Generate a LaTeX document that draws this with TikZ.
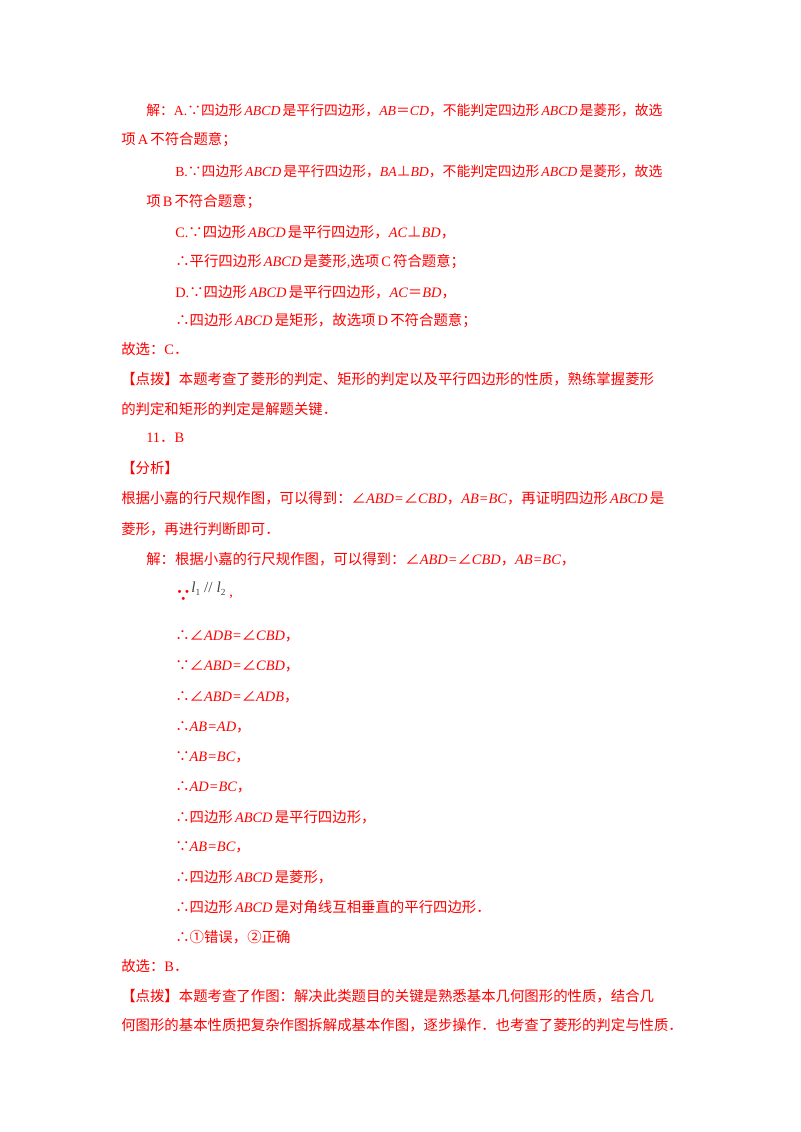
\documentclass[tikz,border=0pt]{standalone}
\usepackage{fontspec}
\setmainfont{Noto Sans CJK SC}
\newfontfamily\lat{Liberation Serif}
\newcommand{\mi}[1]{{\lat\itshape #1}}
\newcommand{\mq}[1]{\hspace{0.15em}{\lat\itshape #1}\hspace{0.15em}}
\newcommand{\rmn}[1]{{\lat #1}}
\newcommand{\rsp}[1]{\hspace{0.15em}{\lat #1}\hspace{0.15em}}
\begin{document}
\begin{tikzpicture}[x=0.75pt,y=-0.75pt,
  ln/.style={anchor=west,inner sep=0pt,text=red,font=\fontsize{10.8pt}{12pt}\selectfont},
  lnt/.style={ln,font=\fontsize{10.35pt}{12pt}\selectfont}]
\useasboundingbox (0,0) rectangle (800,1132);
\node[lnt] (l1) at (146,110) {解：\rmn{A.}∵四边形\mq{ABCD}是平行四边形，\mi{AB}＝\mi{CD}，不能判定四边形\mq{ABCD}是菱形，故选};
\node[ln] (l2) at (121,140) {项\rsp{A}不符合题意；};
\node[lnt] (l3) at (175,171) {\rmn{B.}∵四边形\mq{ABCD}是平行四边形，\mi{BA}⊥\mi{BD}，不能判定四边形\mq{ABCD}是菱形，故选};
\node[ln] (l4) at (146,202) {项\rsp{B}不符合题意；};
\node[ln] (l5) at (175,232) {\rmn{C.}∵四边形\mq{ABCD}是平行四边形，\mi{AC}⊥\mi{BD}，};
\node[ln] (l6) at (175,262) {∴平行四边形\mq{ABCD}是菱形\rmn{,}选项\rsp{C}符合题意；};
\node[ln] (l7) at (175,292) {\rmn{D.}∵四边形\mq{ABCD}是平行四边形，\mi{AC}＝\mi{BD}，};
\node[ln] (l8) at (175,321) {∴四边形\mq{ABCD}是矩形，故选项\rsp{D}不符合题意；};
\node[ln] (l9) at (121,349) {故选：\rmn{C}．};
\node[ln] (l10) at (121,379) {【点拨】本题考查了菱形的判定、矩形的判定以及平行四边形的性质，熟练掌握菱形};
\node[ln] (l11) at (121,409) {的判定和矩形的判定是解题关键．};
\node[ln] (l12) at (146,438) {\rmn{11}．\rmn{B}};
\node[ln] (l13) at (121,468) {【分析】};
\node[ln] (l14) at (121,498) {根据小嘉的行尺规作图，可以得到：∠\mi{ABD=}∠\mi{CBD}，\mi{AB=BC}，再证明四边形\mq{ABCD}是};
\node[ln] (l15) at (121,529) {菱形，再进行判断即可．};
\node[ln] (l16) at (146,559) {解：根据小嘉的行尺规作图，可以得到：∠\mi{ABD=}∠\mi{CBD}，\mi{AB=BC}，};
\node[ln,font=\bfseries\fontsize{12pt}{12pt}\selectfont] (l17) at (175,596) {∵};
\node[anchor=west,inner sep=0pt,text=black!75,font=\fontsize{11.5pt}{12pt}\selectfont] (l17b) at (191,589) {\mi{l}\raisebox{-2pt}{\lat\scriptsize 1}\hspace{3pt}\rmn{//}\hspace{3pt}\mi{l}\raisebox{-2pt}{\lat\scriptsize 2}};
\node[ln] (l17c) at (229,597) {\rmn{,}};
\node[ln] (l18) at (175,636) {∴∠\mi{ADB=}∠\mi{CBD}，};
\node[ln] (l19) at (175,666) {∵∠\mi{ABD=}∠\mi{CBD}，};
\node[ln] (l20) at (175,697) {∴∠\mi{ABD=}∠\mi{ADB}，};
\node[ln] (l21) at (175,727) {∴\mi{AB=AD}，};
\node[ln] (l22) at (175,757) {∵\mi{AB=BC}，};
\node[ln] (l23) at (175,787) {∴\mi{AD=BC}，};
\node[ln] (l24) at (175,817) {∴四边形\mq{ABCD}是平行四边形，};
\node[ln] (l25) at (175,847) {∵\mi{AB=BC}，};
\node[ln] (l26) at (175,877) {∴四边形\mq{ABCD}是菱形，};
\node[ln] (l27) at (175,907) {∴四边形\mq{ABCD}是对角线互相垂直的平行四边形．};
\node[ln] (l28) at (175,937) {∴①错误，②正确};
\node[ln] (l29) at (121,966) {故选：\rmn{B}．};
\node[ln] (l30) at (121,996) {【点拨】本题考查了作图：解决此类题目的关键是熟悉基本几何图形的性质，结合几};
\node[ln] (l31) at (121,1025) {何图形的基本性质把复杂作图拆解成基本作图，逐步操作．也考查了菱形的判定与性质．};
\end{tikzpicture}
\end{document}
